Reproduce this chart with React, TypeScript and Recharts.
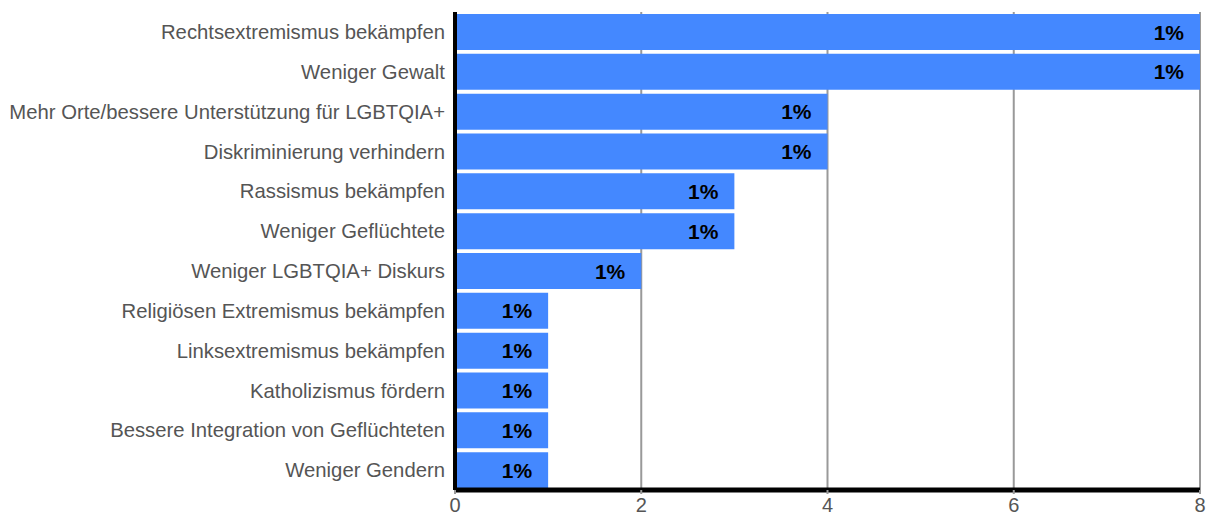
import React from "react";
import { BarChart, Bar, XAxis, YAxis, CartesianGrid, LabelList } from "recharts";

const categories = [
  "Rechtsextremismus bekämpfen",
  "Weniger Gewalt",
  "Mehr Orte/bessere Unterstützung für LGBTQIA+",
  "Diskriminierung verhindern",
  "Rassismus bekämpfen",
  "Weniger Geflüchtete",
  "Weniger LGBTQIA+ Diskurs",
  "Religiösen Extremismus bekämpfen",
  "Linksextremismus bekämpfen",
  "Katholizismus fördern",
  "Bessere Integration von Geflüchteten",
  "Weniger Gendern",
];
const values = [8, 8, 4, 4, 3, 3, 2, 1, 1, 1, 1, 1];
const valueLabels = ["1%", "1%", "1%", "1%", "1%", "1%", "1%", "1%", "1%", "1%", "1%", "1%"];
const xTicks = [0, 2, 4, 6, 8];

const data = categories.map((name, i) => ({ name, value: values[i], label: valueLabels[i] }));

const FONT = "'Liberation Sans', Arial, Helvetica, sans-serif";

const renderLabel = (props: any) => {
  const { x, y, width, height, value } = props;
  return (
    <text
      x={x + width - 16}
      y={y + height / 2}
      textAnchor="end"
      dominantBaseline="central"
      fontFamily={FONT}
      fontWeight="bold"
      fontSize={21}
      fill="#000"
    >
      {value}
    </text>
  );
};

export default function App() {
  return (
    <div style={{ position: "absolute", left: 0, top: 0, width: 1216, height: 519, background: "#fff" }}>
      <BarChart
        width={1216}
        height={519}
        data={data}
        layout="vertical"
        margin={{ top: 12, right: 16, bottom: 4, left: 0 }}
        barCategoryGap={2}
      >
        <CartesianGrid horizontal={false} vertical={true} stroke="#999" strokeWidth={2} />
        <XAxis
          type="number"
          domain={[0, 8]}
          ticks={xTicks}
          height={25}
          axisLine={{ stroke: "#000", strokeWidth: 5 }}
          tickLine={{ stroke: "#999", strokeWidth: 2 }}
          tickSize={4}
          tickMargin={4}
          tick={{ fill: "#555", fontSize: 20, fontFamily: FONT }}
        />
        <YAxis
          type="category"
          dataKey="name"
          width={455}
          axisLine={{ stroke: "#000", strokeWidth: 4 }}
          tickLine={false}
          tickMargin={4}
          tick={{ fill: "#555", fontSize: 20.3, fontFamily: FONT }}
          interval={0}
        />
        <Bar dataKey="value" fill="#4488ff" isAnimationActive={false}>
          <LabelList dataKey="label" content={renderLabel} />
        </Bar>
      </BarChart>
    </div>
  );
}
